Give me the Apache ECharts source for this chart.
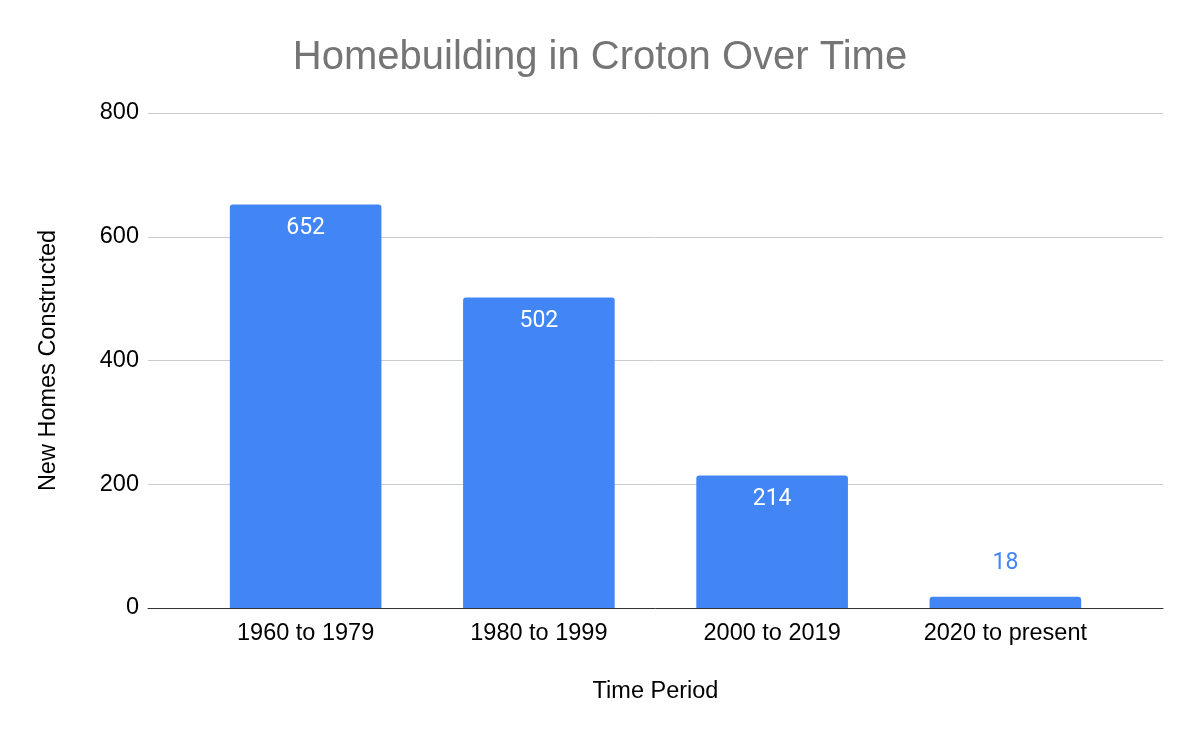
<!DOCTYPE html>
<html><head><meta charset="utf-8">
<script src="https://cdn.jsdelivr.net/npm/echarts@6/dist/echarts.min.js"></script>
<style>html,body{margin:0;padding:0;background:#fff}#c{width:1200px;height:742px}</style>
</head><body><div id="c"></div>
<script>
const categories = ['1960 to 1979', '1980 to 1999', '2000 to 2019', '2020 to present'];
const homes = [652, 502, 214, 18];
const yTicks = [0, 200, 400, 600, 800];

const chart = echarts.init(document.getElementById('c'));
const font = 'Liberation Sans, Arial, sans-serif';
chart.setOption({
  animation: false,
  title: {
    text: 'Homebuilding in Croton Over Time',
    left: 'center', top: 33,
    textStyle: {color: '#757575', fontSize: 40, fontWeight: 'normal', fontFamily: font}
  },
  grid: [
    {left: 148, right: 37, top: 113, bottom: 134},
    {left: 189, right: 78, top: 113, bottom: 134}
  ],
  xAxis: [
    {gridIndex: 0, type: 'value', min: 0, max: 1, show: true,
     axisLine: {show: true, onZero: false, lineStyle: {color: '#333', width: 1}},
     axisTick: {show: false}, axisLabel: {show: false}, splitLine: {show: false},
     name: 'Time Period', nameLocation: 'middle', nameGap: 72,
     nameTextStyle: {color: '#000', fontSize: 23.5, fontFamily: font}},
    {gridIndex: 1, type: 'category', data: categories,
     axisLine: {show: false}, axisTick: {show: false},
     axisLabel: {color: '#000', fontSize: 23.5, margin: 14, fontFamily: font}}
  ],
  yAxis: [
    {gridIndex: 0, type: 'value', min: 0, max: 800, interval: 200,
     axisLine: {show: false}, axisTick: {show: false},
     axisLabel: {color: '#000', fontSize: 23.5, margin: 9, fontFamily: font,
       formatter: v => yTicks.includes(v) ? String(v) : ''},
     splitLine: {lineStyle: {color: '#cccccc', width: 1}},
     name: 'New Homes Constructed', nameLocation: 'middle', nameGap: 87,
     nameTextStyle: {color: '#000', fontSize: 23.5, fontFamily: font}},
    {gridIndex: 1, type: 'value', min: 0, max: 800, interval: 200, show: false,
     splitLine: {show: false}}
  ],
  series: [{
    type: 'bar', xAxisIndex: 1, yAxisIndex: 1,
    barWidth: '65%',
    itemStyle: {color: '#4285F4', borderRadius: [3, 3, 0, 0]},
    data: homes.map(v => v < 60 ? {
      value: v,
      label: {show: true, position: 'top', distance: 22, color: '#4285F4'}
    } : v),
    label: {show: true, position: 'insideTop', distance: 12, color: '#fff',
      fontSize: 23, fontFamily: 'Roboto, sans-serif'}
  }]
});
</script></body></html>
